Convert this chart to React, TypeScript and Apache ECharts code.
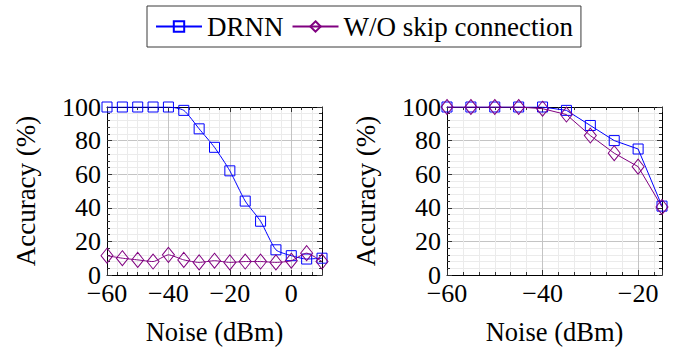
import React, { useEffect, useRef } from "react";
import * as echarts from "echarts";

// ---- data ----
const noiseLeft = [-60, -55, -50, -45, -40, -35, -30, -25, -20, -15, -10, -5, 0, 5, 10];
const drnnLeft = [100, 100, 100, 100, 100, 98, 87, 76, 62, 44, 32, 15, 11.5, 9.5, 10];
const woSkipLeft = [11.5, 10, 9, 8, 12, 9, 7.5, 8.5, 7.5, 8, 8, 7.5, 8.5, 13, 8];

const noiseRight = [-60, -55, -50, -45, -40, -35, -30, -25, -20, -15];
const drnnRight = [100, 100, 100, 100, 100, 98, 89, 80, 75, 41];
const woSkipRight = [100, 100, 100, 100, 99, 95.5, 83, 72.5, 64.5, 40.5];

const xTickLabelsLeft = [-60, -40, -20, 0];
const xTickLabelsRight = [-60, -40, -20];
const yTickLabels = [0, 20, 40, 60, 80, 100];

const seriesNames = ["DRNN", "W/O skip connection"];

const SERIF = "Liberation Serif";
const BLUE = "#0000ff";
const VIOLET = "#800080";
const MAJOR_GRID = "#c4c4c4";
const MINOR_GRID = "#ebebeb";
const TICK = "#333";

const fmt = (v: number) => String(v).replace("-", "\u2212");

function xAxes(gridIndex: number, min: number, max: number, labels: number[]) {
  const minor = (position: string) => ({
    type: "value", gridIndex, position, min, max, interval: 10 / 3,
    axisLine: { show: false, onZero: false },
    axisLabel: { show: false },
    axisTick: { show: true, inside: true, length: 3, lineStyle: { color: TICK, width: 1 } },
    splitLine: { show: position === "bottom", lineStyle: { color: MINOR_GRID, width: 1 } },
  });
  const major = (position: string) => ({
    type: "value", gridIndex, position, min, max, interval: 20,
    axisLine: { show: true, onZero: false, lineStyle: { color: "#000", width: 1 } },
    axisLabel: {
      show: position === "bottom",
      margin: 9,
      lineHeight: 18,
      fontFamily: SERIF, fontSize: 26, color: "#000",
      formatter: (v: number) => (labels.indexOf(Math.round(v)) >= 0 && Math.abs(v - Math.round(v)) < 1e-6 ? fmt(Math.round(v)) : ""),
    },
    axisTick: { show: true, inside: true, length: 5, lineStyle: { color: TICK, width: 1 } },
    splitLine: { show: position === "bottom", lineStyle: { color: MAJOR_GRID, width: 1 } },
    name: position === "bottom" ? "Noise (dBm)" : "",
    nameLocation: "middle",
    nameGap: 43,
    nameTextStyle: { fontFamily: SERIF, fontSize: 26.5, color: "#000" },
  });
  return [minor("bottom"), minor("top"), major("bottom"), major("top")];
}

function yAxes(gridIndex: number) {
  const minor = (position: string) => ({
    type: "value", gridIndex, position, min: 0, max: 100, interval: 4,
    axisLine: { show: false, onZero: false },
    axisLabel: { show: false },
    axisTick: { show: true, inside: true, length: 3, lineStyle: { color: TICK, width: 1 } },
    splitLine: { show: position === "left", lineStyle: { color: MINOR_GRID, width: 1 } },
  });
  const major = (position: string) => ({
    type: "value", gridIndex, position, min: 0, max: 100, interval: 20,
    axisLine: { show: true, onZero: false, lineStyle: { color: "#000", width: 1 } },
    axisLabel: {
      show: position === "left",
      margin: 6,
      lineHeight: 16,
      fontFamily: SERIF, fontSize: 26, color: "#000",
      formatter: (v: number) => (yTickLabels.indexOf(v) >= 0 ? String(v) : ""),
    },
    axisTick: { show: true, inside: true, length: 5, lineStyle: { color: TICK, width: 1 } },
    splitLine: { show: position === "left", lineStyle: { color: MAJOR_GRID, width: 1 } },
    name: position === "left" ? "Accuracy (%)" : "",
    nameLocation: "middle",
    nameGap: 68,
    nameTextStyle: { fontFamily: SERIF, fontSize: 27, color: "#000" },
  });
  return [minor("left"), minor("right"), major("left"), major("right")];
}

function lineSeries(name: string, xs: number[], ys: number[], idx: number, isDrnn: boolean, smooth: number | boolean) {
  const color = isDrnn ? BLUE : VIOLET;
  return {
    type: "line",
    name,
    xAxisIndex: idx,
    yAxisIndex: idx,
    data: xs.map((x, i) => [x, ys[i]]),
    smooth,
    symbol: isDrnn ? "rect" : "diamond",
    symbolSize: isDrnn ? 10 : [12, 15],
    showAllSymbol: true,
    lineStyle: { color, width: 1 },
    itemStyle: { color: "transparent", borderColor: color, borderWidth: 1 },
    z: isDrnn ? 3 : 4,
  };
}

export default function App() {
  const ref = useRef<HTMLDivElement>(null);
  useEffect(() => {
    if (!ref.current) return;
    const chart = echarts.init(ref.current, null, { renderer: "svg" });
    chart.setOption({
      animation: false,
      backgroundColor: "#fff",
      textStyle: { fontFamily: SERIF },
      legend: {
        data: seriesNames,
        left: 147,
        top: 6,
        padding: [7, 8, 7, 8],
        itemGap: 8,
        itemWidth: 46,
        itemHeight: 13,
        borderColor: "#3a3a3a",
        borderWidth: 1,
        textStyle: { fontFamily: SERIF, fontSize: 27, color: "#000" },
      },
      grid: [
        { left: 107, top: 107, width: 215, height: 168 },
        { left: 447, top: 107, width: 215, height: 168 },
      ],
      xAxis: [
        ...xAxes(0, -60, 10, xTickLabelsLeft),
        ...xAxes(1, -60, -15, xTickLabelsRight),
      ],
      yAxis: [...yAxes(0), ...yAxes(1)],
      series: [
        lineSeries(seriesNames[0], noiseLeft, drnnLeft, 2, true, 0.2),
        lineSeries(seriesNames[1], noiseLeft, woSkipLeft, 2, false, 0.2),
        lineSeries(seriesNames[0], noiseRight, drnnRight, 6, true, false),
        lineSeries(seriesNames[1], noiseRight, woSkipRight, 6, false, false),
      ],
    });
    return () => chart.dispose();
  }, []);
  return (
    <div
      ref={ref}
      style={{ position: "fixed", left: 0, top: 0, width: 677, height: 347, background: "#fff" }}
    />
  );
}
